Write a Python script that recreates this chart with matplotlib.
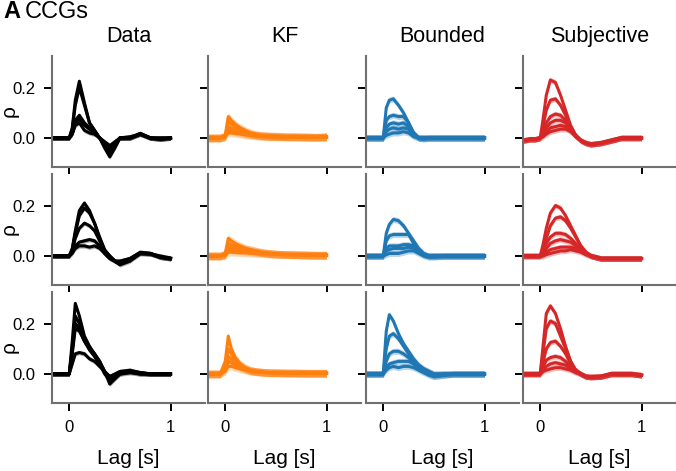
import numpy as np
import matplotlib.pyplot as plt

plt.rcParams['font.family'] = ['Liberation Sans', 'DejaVu Sans']

# lag grid [s]
lags = [-0.17, -0.1, -0.05, 0.0, 0.03, 0.06, 0.1, 0.15, 0.2, 0.25,
        0.3, 0.35, 0.4, 0.45, 0.5, 0.6, 0.7, 0.8, 0.9, 1.0]

models = ['Data', 'KF', 'Bounded', 'Subjective']
colors = ['black', '#ff7f0e', '#1f77b4', '#d62728']
sem = [0.009, 0.015, 0.012, 0.011]   # shaded error band per model

# --- Data ---
data_r1 = [
    [0, 0, 0, 0, 0.04, 0.15, 0.225, 0.14, 0.06, 0.03, 0.0, -0.04, -0.075, -0.04, 0.0, 0.0, 0.018, 0.0, -0.005, 0.0],
    [0, 0, 0, 0, 0.035, 0.13, 0.20, 0.13, 0.06, 0.03, 0.0, -0.03, -0.06, -0.035, 0.0, 0.0, 0.018, 0.0, -0.005, 0.0],
    [0, 0, 0, 0, 0.02, 0.07, 0.09, 0.06, 0.04, 0.025, 0.0, -0.02, -0.04, -0.02, 0.0, 0.0, 0.015, 0.0, -0.005, 0.0],
    [0, 0, 0, 0, 0.015, 0.06, 0.075, 0.05, 0.035, 0.02, 0.0, -0.02, -0.05, -0.02, 0.0, 0.0, 0.015, 0.0, 0.0, 0.0],
    [0, 0, 0, 0, 0.015, 0.05, 0.06, 0.03, 0.02, 0.015, 0.0, -0.015, -0.03, -0.015, 0.0, 0.005, 0.015, 0.0, 0.0, 0.0],
]
data_r2 = [
    [0, 0, 0, 0, 0.03, 0.10, 0.18, 0.21, 0.18, 0.13, 0.07, 0.02, 0.0, -0.02, -0.035, -0.02, 0.01, 0.01, -0.005, -0.012],
    [0, 0, 0, 0, 0.025, 0.09, 0.16, 0.19, 0.17, 0.13, 0.075, 0.025, 0.0, -0.02, -0.03, -0.015, 0.012, 0.01, -0.005, -0.01],
    [0, 0, 0, 0, 0.02, 0.07, 0.11, 0.13, 0.12, 0.10, 0.06, 0.02, -0.005, -0.02, -0.03, -0.015, 0.01, 0.008, -0.005, -0.01],
    [0, 0, 0, 0, 0.015, 0.04, 0.055, 0.06, 0.065, 0.06, 0.04, 0.01, -0.01, -0.02, -0.025, -0.01, 0.015, 0.01, -0.005, -0.01],
    [0, 0, 0, 0, 0.01, 0.03, 0.04, 0.04, 0.035, 0.04, 0.03, 0.01, -0.01, -0.02, -0.02, -0.01, 0.012, 0.008, 0.0, -0.008],
]
data_r3 = [
    [0, 0, 0, 0, 0.13, 0.28, 0.23, 0.15, 0.11, 0.08, 0.05, 0.01, -0.04, -0.02, 0.0, 0.005, 0.0, 0.0, 0.0, 0.0],
    [0, 0, 0, 0, 0.10, 0.23, 0.20, 0.14, 0.10, 0.08, 0.05, 0.01, -0.02, -0.01, 0.005, 0.01, 0.0, 0.0, 0.0, 0.0],
    [0, 0, 0, 0, 0.09, 0.20, 0.18, 0.13, 0.10, 0.07, 0.04, 0.0, -0.025, -0.015, 0.0, 0.012, 0.005, 0.0, 0.0, 0.0],
    [0, 0, 0, 0, 0.08, 0.18, 0.17, 0.13, 0.095, 0.07, 0.04, 0.005, -0.01, 0.0, 0.01, 0.015, 0.005, 0.0, 0.0, 0.0],
    [0, 0, 0, 0, 0.04, 0.08, 0.085, 0.08, 0.06, 0.05, 0.03, 0.01, -0.01, -0.005, 0.005, 0.01, 0.005, 0.0, 0.0, 0.0],
]

# --- KF ---
kf_r1 = [
    [0, 0, 0, 0.01, 0.085, 0.07, 0.055, 0.04, 0.03, 0.02, 0.015, 0.01, 0.01, 0.008, 0.008, 0.005, 0.005, 0.005, 0.003, 0.005],
    [0, 0, 0, 0.01, 0.065, 0.055, 0.045, 0.035, 0.025, 0.018, 0.012, 0.01, 0.008, 0.008, 0.006, 0.005, 0.005, 0.004, 0.003, 0.005],
    [0, 0, 0, 0.005, 0.045, 0.04, 0.035, 0.03, 0.02, 0.015, 0.012, 0.01, 0.008, 0.006, 0.006, 0.005, 0.004, 0.004, 0.003, 0.004],
    [0, 0, 0, 0.005, 0.03, 0.03, 0.025, 0.02, 0.015, 0.012, 0.01, 0.008, 0.006, 0.005, 0.005, 0.004, 0.004, 0.003, 0.002, 0.004],
    [0, 0, 0, 0.003, 0.02, 0.02, 0.018, 0.015, 0.012, 0.01, 0.008, 0.006, 0.005, 0.004, 0.004, 0.003, 0.003, 0.002, 0.002, 0.003],
]
kf_r2 = [
    [0, 0, 0, 0.01, 0.07, 0.06, 0.05, 0.04, 0.03, 0.025, 0.02, 0.015, 0.012, 0.01, 0.008, 0.006, 0.005, 0.004, 0.003, 0.003],
    [0, 0, 0, 0.008, 0.05, 0.045, 0.04, 0.035, 0.03, 0.025, 0.02, 0.015, 0.012, 0.01, 0.008, 0.006, 0.005, 0.004, 0.003, 0.003],
    [0, 0, 0, 0.005, 0.035, 0.035, 0.03, 0.027, 0.024, 0.02, 0.017, 0.014, 0.011, 0.009, 0.007, 0.006, 0.005, 0.004, 0.003, 0.003],
    [0, 0, 0, 0.003, 0.025, 0.025, 0.022, 0.02, 0.018, 0.016, 0.014, 0.012, 0.01, 0.008, 0.007, 0.005, 0.004, 0.004, 0.003, 0.003],
    [0, 0, 0, 0.002, 0.015, 0.015, 0.014, 0.013, 0.012, 0.011, 0.01, 0.009, 0.008, 0.007, 0.006, 0.005, 0.004, 0.003, 0.003, 0.003],
]
kf_r3 = [
    [0, 0, 0, 0.05, 0.15, 0.10, 0.065, 0.04, 0.025, 0.015, 0.01, 0.008, 0.006, 0.005, 0.005, 0.004, 0.004, 0.003, 0.003, 0.003],
    [0, 0, 0, 0.035, 0.10, 0.08, 0.055, 0.035, 0.022, 0.014, 0.01, 0.008, 0.006, 0.005, 0.005, 0.004, 0.004, 0.003, 0.003, 0.003],
    [0, 0, 0, 0.025, 0.07, 0.06, 0.045, 0.03, 0.02, 0.013, 0.01, 0.008, 0.006, 0.005, 0.005, 0.004, 0.004, 0.003, 0.003, 0.003],
    [0, 0, 0, 0.015, 0.05, 0.045, 0.035, 0.025, 0.018, 0.012, 0.009, 0.007, 0.006, 0.005, 0.004, 0.004, 0.003, 0.003, 0.003, 0.003],
    [0, 0, 0, 0.01, 0.03, 0.03, 0.025, 0.02, 0.015, 0.01, 0.008, 0.006, 0.005, 0.004, 0.004, 0.003, 0.003, 0.003, 0.002, 0.003],
]

# --- Bounded ---
bnd_r1 = [
    [0, 0, 0, 0, 0.12, 0.15, 0.155, 0.13, 0.10, 0.06, 0.02, 0.0, 0.0, 0, 0, 0, 0, 0, 0, 0],
    [0, 0, 0, 0, 0.07, 0.085, 0.09, 0.085, 0.085, 0.06, 0.02, 0.0, 0.0, 0, 0, 0, 0, 0, 0, 0],
    [0, 0, 0, 0, 0.04, 0.055, 0.06, 0.055, 0.06, 0.045, 0.015, 0.0, 0.0, 0, 0, 0, 0, 0, 0, 0],
    [0, 0, 0, 0, 0.025, 0.035, 0.04, 0.035, 0.04, 0.035, 0.01, 0.0, 0.0, 0, 0, 0, 0, 0, 0, 0],
    [0, 0, 0, 0, 0.01, 0.015, 0.02, 0.02, 0.025, 0.02, 0.005, 0.0, -0.005, 0, 0, 0, 0, 0, 0, 0],
]
bnd_r2 = [
    [0, 0, 0, 0, 0.09, 0.125, 0.145, 0.14, 0.12, 0.09, 0.06, 0.03, 0.01, 0.0, 0, 0, 0, 0, 0, 0],
    [0, 0, 0, 0, 0.06, 0.08, 0.085, 0.085, 0.085, 0.085, 0.05, 0.02, 0.005, 0.0, 0, 0, 0, 0, 0, 0],
    [0, 0, 0, 0, 0.03, 0.04, 0.04, 0.04, 0.045, 0.045, 0.04, 0.02, 0.005, 0.0, 0, 0, 0, 0, 0, 0],
    [0, 0, 0, 0, 0.02, 0.025, 0.03, 0.03, 0.03, 0.035, 0.03, 0.015, 0.005, 0.0, 0, 0, 0, 0, 0, 0],
    [0, 0, 0, 0, 0.005, 0.01, 0.01, 0.01, 0.015, 0.02, 0.02, 0.01, 0.0, -0.005, -0.005, 0, 0, 0, 0, 0],
]
bnd_r3 = [
    [0, 0, 0, 0, 0.17, 0.235, 0.21, 0.16, 0.12, 0.09, 0.06, 0.035, 0.02, 0.01, 0.0, 0, 0, 0, 0, 0],
    [0, 0, 0, 0, 0.10, 0.15, 0.16, 0.14, 0.11, 0.08, 0.055, 0.035, 0.02, 0.01, 0.0, 0, 0, 0, 0, 0],
    [0, 0, 0, 0, 0.05, 0.08, 0.09, 0.09, 0.08, 0.065, 0.045, 0.03, 0.015, 0.005, -0.005, 0, 0, 0, 0, 0],
    [0, 0, 0, 0, 0.025, 0.04, 0.045, 0.05, 0.05, 0.05, 0.04, 0.02, 0.01, 0.0, -0.01, -0.005, 0, 0, 0, 0],
    [0, 0, 0, 0, 0.015, 0.025, 0.03, 0.025, 0.03, 0.03, 0.025, 0.015, 0.005, -0.005, -0.01, -0.005, 0, 0, 0, 0],
]

# --- Subjective ---
subj_r1 = [
    [-0.01, -0.005, -0.005, 0, 0.08, 0.17, 0.23, 0.22, 0.17, 0.11, 0.05, 0.01, -0.01, -0.02, -0.025, -0.02, -0.01, 0, 0, 0],
    [-0.01, -0.005, -0.005, 0, 0.05, 0.11, 0.15, 0.155, 0.13, 0.09, 0.045, 0.01, -0.01, -0.02, -0.025, -0.02, -0.01, 0, 0, 0],
    [-0.01, -0.005, -0.005, 0, 0.03, 0.06, 0.085, 0.095, 0.09, 0.07, 0.04, 0.01, -0.01, -0.02, -0.025, -0.02, -0.01, 0, 0, 0],
    [-0.01, -0.005, -0.005, 0, 0.02, 0.04, 0.06, 0.07, 0.07, 0.06, 0.035, 0.01, -0.01, -0.02, -0.025, -0.02, -0.01, 0, 0, 0],
    [-0.01, -0.005, -0.005, 0, 0.01, 0.025, 0.04, 0.045, 0.05, 0.045, 0.03, 0.005, -0.01, -0.02, -0.025, -0.02, -0.01, 0, 0, 0],
    [-0.01, -0.005, -0.005, 0, 0.005, 0.015, 0.025, 0.03, 0.035, 0.035, 0.025, 0.005, -0.01, -0.02, -0.025, -0.02, -0.01, 0, 0, 0],
]
subj_r2 = [
    [0, 0, 0, 0, 0.05, 0.11, 0.17, 0.20, 0.19, 0.16, 0.12, 0.08, 0.04, 0.015, 0.0, -0.01, -0.01, -0.01, -0.01, -0.01],
    [0, 0, 0, 0, 0.03, 0.07, 0.12, 0.15, 0.155, 0.14, 0.11, 0.075, 0.04, 0.015, 0.0, -0.01, -0.01, -0.01, -0.01, -0.01],
    [0, 0, 0, 0, 0.02, 0.05, 0.075, 0.09, 0.09, 0.085, 0.07, 0.05, 0.03, 0.01, 0.0, -0.01, -0.01, -0.01, -0.01, -0.01],
    [0, 0, 0, 0, 0.01, 0.03, 0.05, 0.06, 0.065, 0.06, 0.055, 0.04, 0.025, 0.01, 0.0, -0.01, -0.01, -0.01, -0.01, -0.01],
    [0, 0, 0, 0, 0.005, 0.015, 0.025, 0.03, 0.035, 0.035, 0.035, 0.03, 0.02, 0.01, 0.0, -0.01, -0.01, -0.01, -0.01, -0.01],
    [0, 0, 0, 0, 0.0, 0.005, 0.01, 0.015, 0.02, 0.02, 0.025, 0.02, 0.015, 0.005, 0.0, -0.01, -0.01, -0.01, -0.01, -0.01],
]
subj_r3 = [
    [0, 0, 0, 0, 0.12, 0.24, 0.27, 0.24, 0.18, 0.11, 0.05, 0.015, 0.0, -0.01, -0.012, -0.01, 0.0, 0.0, 0.0, -0.005],
    [0, 0, 0, 0, 0.09, 0.18, 0.21, 0.20, 0.15, 0.10, 0.05, 0.015, 0.0, -0.01, -0.012, -0.01, 0.0, 0.0, 0.0, -0.005],
    [0, 0, 0, 0, 0.05, 0.10, 0.125, 0.13, 0.11, 0.08, 0.04, 0.015, 0.0, -0.01, -0.012, -0.01, 0.0, 0.0, 0.0, -0.005],
    [0, 0, 0, 0, 0.03, 0.055, 0.065, 0.07, 0.065, 0.05, 0.03, 0.01, 0.0, -0.01, -0.012, -0.01, 0.0, 0.0, 0.0, -0.005],
    [0, 0, 0, 0, 0.015, 0.03, 0.04, 0.045, 0.04, 0.035, 0.02, 0.01, 0.0, -0.01, -0.012, -0.01, 0.0, 0.0, 0.0, -0.005],
    [0, 0, 0, 0, 0.01, 0.015, 0.02, 0.025, 0.025, 0.02, 0.015, 0.005, 0.0, -0.01, -0.012, -0.01, 0.0, 0.0, 0.0, -0.005],
]

rows = [[data_r1, kf_r1, bnd_r1, subj_r1],
        [data_r2, kf_r2, bnd_r2, subj_r2],
        [data_r3, kf_r3, bnd_r3, subj_r3]]

W, H = 676, 471
fig = plt.figure(figsize=(W / 100, H / 100), dpi=100)

col_left = [52, 208, 366, 523]
row_top = [56, 174, 292]
ax_w, ax_h = 153, 111
x = np.array(lags)

for r in range(3):
    for c in range(4):
        ax = fig.add_axes([col_left[c] / W, 1 - (row_top[r] + ax_h) / H, ax_w / W, ax_h / H])
        for curve in rows[r][c]:
            y = np.array(curve)
            ax.fill_between(x, y - sem[c], y + sem[c], color=colors[c], alpha=0.3, lw=0)
            ax.plot(x, y, color=colors[c], lw=2.2)
        ax.set_xlim(-0.17, 1.34)
        ax.set_ylim(-0.115, 0.325)
        ax.set_xticks([0, 1])
        ax.set_yticks([0.0, 0.2])
        for s in ['top', 'right']:
            ax.spines[s].set_visible(False)
        for s in ['left', 'bottom']:
            ax.spines[s].set_color('#707070')
            ax.spines[s].set_linewidth(1.5)
        ax.tick_params(length=6, width=1.4, color='black', labelsize=12, pad=6)
        if c == 0:
            ax.set_yticklabels(['0.0', '0.2'])
            ax.set_ylabel('ρ', fontsize=15)
            ax.yaxis.set_label_coords(-0.22, 0.5)
        else:
            ax.set_yticklabels([])
        if r == 2:
            ax.set_xticklabels(['0', '1'])
            ax.set_xlabel('Lag [s]', fontsize=15)
            ax.xaxis.set_label_coords(0.5, -0.41)
        else:
            ax.set_xticklabels([])
        if r == 0:
            ax.set_title(models[c], fontsize=15.5, pad=10)

fig.text(3 / W, 1 - 18 / H, 'A', fontsize=17, fontweight='bold', va='baseline')
fig.text(25 / W, 1 - 18 / H, 'CCGs', fontsize=17, va='baseline')

fig.savefig('out.png', dpi=100)
